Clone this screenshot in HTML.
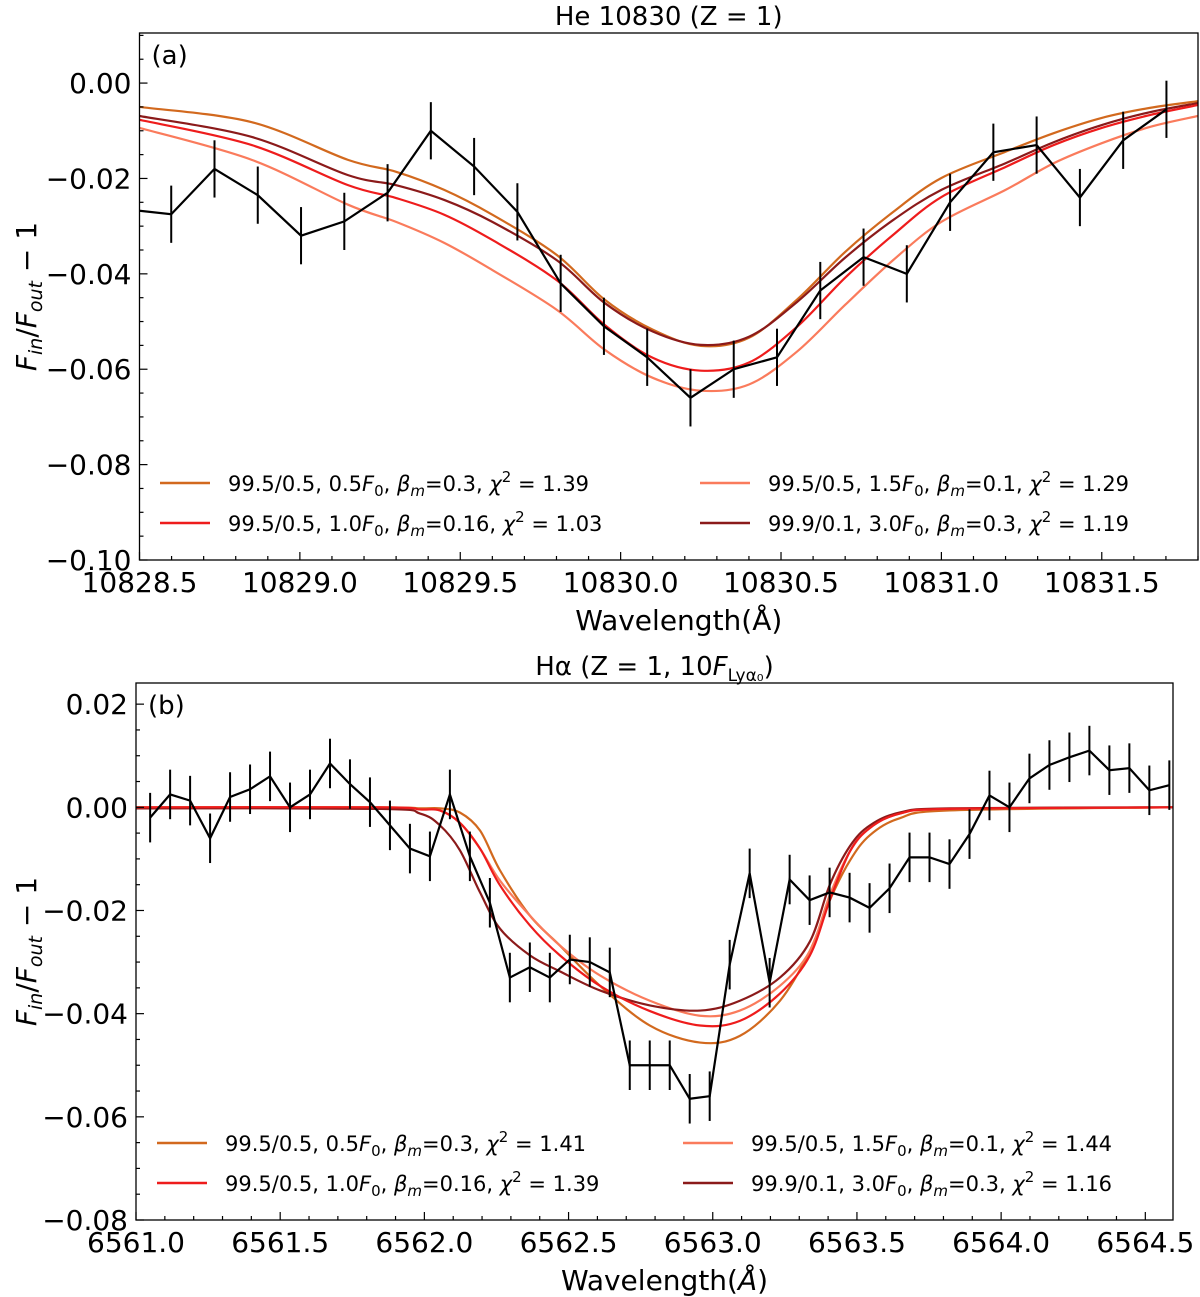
<!DOCTYPE html>
<html><head><meta charset="utf-8"><style>
body{margin:0;background:#fff;}
svg{display:block;font-family:"DejaVu Sans","Liberation Sans",sans-serif;}
</style></head><body>
<svg id="chart" width="1200" height="1297" viewBox="0 0 1200 1297" xmlns="http://www.w3.org/2000/svg"></svg>
<script>
// ---------- Panel (a) He 10830 data ----------
const aObsStart = 10828.464, aObsStep = 0.1349;
const aObsVals = [-0.0265,-0.0275,-0.018,-0.0235,-0.032,-0.029,-0.023,-0.010,-0.0175,-0.027,-0.042,-0.051,-0.0575,-0.066,-0.060,-0.0575,-0.0435,-0.0365,-0.040,-0.025,-0.0145,-0.013,-0.024,-0.012,-0.0055];
const aObsErr = 0.006;
const aModelWl = [10828.5,10828.85,10829.15,10829.3,10829.45,10829.6,10829.8,10829.95,10830.1,10830.25,10830.4,10830.55,10830.7,10830.85,10831.0,10831.2,10831.35,10831.5,10831.65,10831.8];
const aOrange = [-0.0050,-0.0082,-0.0161,-0.0186,-0.0224,-0.0276,-0.0360,-0.0454,-0.0517,-0.0551,-0.0534,-0.0454,-0.0354,-0.0270,-0.0199,-0.0144,-0.0105,-0.0073,-0.0052,-0.0038];
const aRed = [-0.0077,-0.0130,-0.0214,-0.0241,-0.0276,-0.0329,-0.0413,-0.0507,-0.0576,-0.0603,-0.0586,-0.0511,-0.0408,-0.0318,-0.0239,-0.0176,-0.0130,-0.0094,-0.0067,-0.0046];
const aLight = [-0.0094,-0.0161,-0.0255,-0.0291,-0.0335,-0.0392,-0.0475,-0.0559,-0.0618,-0.0645,-0.0632,-0.0563,-0.0465,-0.0371,-0.0291,-0.0224,-0.0168,-0.0126,-0.0092,-0.0069];
const aDark = [-0.0069,-0.0113,-0.0193,-0.0214,-0.0245,-0.0291,-0.0371,-0.0461,-0.0521,-0.0549,-0.0532,-0.0459,-0.0366,-0.0287,-0.0224,-0.0168,-0.0124,-0.0088,-0.0061,-0.0042];
const aXTicks = ["10828.5","10829.0","10829.5","10830.0","10830.5","10831.0","10831.5"];
const aYTicks = ["0.00","−0.02","−0.04","−0.06","−0.08","−0.10"];
const aLegF = ["0.5","1.0","1.5","3.0"];
const aLegMix = ["99.5/0.5","99.5/0.5","99.5/0.5","99.9/0.1"];
const aLegBeta = ["0.3","0.16","0.1","0.3"];
const aLegChi = ["1.39","1.03","1.29","1.19"];
// ---------- Panel (b) Halpha data ----------
const bObsStart = 6561.049, bObsStep = 0.0693;
const bObsVals = [-0.002,0.0025,0.0013,-0.006,0.002,0.0035,0.006,0,0.0025,0.0085,0.0045,0.001,-0.0035,-0.008,-0.0095,0.0025,-0.0095,-0.0185,-0.033,-0.031,-0.033,-0.0295,-0.030,-0.032,-0.050,-0.050,-0.050,-0.0565,-0.056,-0.0305,-0.0128,-0.034,-0.014,-0.018,-0.0165,-0.0175,-0.0195,-0.0157,-0.0097,-0.0097,-0.011,-0.0052,0.0023,0,0.0056,0.0082,0.0097,0.011,0.0072,0.0076,0.0033,0.0043];
const bObsErr = 0.0048;
const bModelWl = [6561.0,6561.846,6561.985,6562.054,6562.123,6562.193,6562.262,6562.366,6562.470,6562.609,6562.782,6562.956,6563.094,6563.233,6563.337,6563.406,6563.476,6563.545,6563.649,6563.822,6564.6];
const bOrange = [0,0,-0.0002,-0.0002,-0.001,-0.0045,-0.0122,-0.021,-0.0268,-0.0346,-0.0423,-0.0456,-0.0443,-0.0375,-0.0278,-0.018,-0.0103,-0.0054,-0.0021,-0.0006,0];
const bRed = [0,0,-0.0004,-0.0006,-0.003,-0.008,-0.0151,-0.0229,-0.0287,-0.0346,-0.0395,-0.0423,-0.0414,-0.0361,-0.0287,-0.018,-0.0085,-0.004,-0.0012,-0.0003,0];
const bLight = [0,0,-0.0004,-0.0006,-0.003,-0.008,-0.0142,-0.021,-0.0268,-0.0326,-0.0375,-0.0404,-0.0394,-0.0346,-0.0278,-0.017,-0.0085,-0.004,-0.0012,-0.0003,0];
const bDark = [-0.0002,-0.0003,-0.0012,-0.0035,-0.0083,-0.0165,-0.0235,-0.0287,-0.0318,-0.0355,-0.0384,-0.0394,-0.0375,-0.0330,-0.0260,-0.0150,-0.0075,-0.0035,-0.0010,-0.0002,0];
const bXTicks = ["6561.0","6561.5","6562.0","6562.5","6563.0","6563.5","6564.0","6564.5"];
const bYTicks = ["0.02","0.00","−0.02","−0.04","−0.06","−0.08"];
const bLegF = ["0.5","1.0","1.5","3.0"];
const bLegMix = ["99.5/0.5","99.5/0.5","99.5/0.5","99.9/0.1"];
const bLegBeta = ["0.3","0.16","0.1","0.3"];
const bLegChi = ["1.41","1.39","1.44","1.16"];
const legColors = ["#d2691e","#ee1c1c","#fa7b5c","#8b1a1a"];

const NS="http://www.w3.org/2000/svg";
const svg=document.getElementById('chart');
function mk(tag,attrs,parent){const e=document.createElementNS(NS,tag);for(const k in attrs)e.setAttribute(k,attrs[k]);(parent||svg).appendChild(e);return e;}
function smooth(pts){let d=`M${pts[0][0]},${pts[0][1]}`;for(let i=0;i<pts.length-1;i++){const p0=pts[i-1]||pts[i],p1=pts[i],p2=pts[i+1],p3=pts[i+2]||p2;const c1=[p1[0]+(p2[0]-p0[0])/6,p1[1]+(p2[1]-p0[1])/6],c2=[p2[0]-(p3[0]-p1[0])/6,p2[1]-(p3[1]-p1[1])/6];d+=` C${c1[0]},${c1[1]} ${c2[0]},${c2[1]} ${p2[0]},${p2[1]}`;}return d;}
function legHtml(mix,f,beta,chi){
 return `${mix}, ${f}<tspan font-style="italic">F</tspan><tspan font-size="15" dy="5">0</tspan><tspan dy="-5">, </tspan><tspan font-style="italic">β</tspan><tspan font-style="italic" font-size="15" dy="5">m</tspan><tspan dy="-5">=${beta}, </tspan><tspan font-style="italic">χ</tspan><tspan font-size="15" dy="-9">2</tspan><tspan dy="9"> =  ${chi}</tspan>`;
}

function panel(cfg){
 const {L,R,T,B,x0,x1,y0,y1}=cfg;
 const X=v=>L+(v-x0)/(x1-x0)*(R-L), Y=v=>T+(y1-v)/(y1-y0)*(B-T);
 const g=mk('g',{});
 
 
 mk('defs',{},g).innerHTML=`<clipPath id="clip-${cfg.id}"><rect x="${L}" y="${T}" width="${R-L}" height="${B-T}"/></clipPath>`;
 const plot=mk('g',{'clip-path':`url(#clip-${cfg.id})`},g);
 const models=[[cfg.orange,'#d2691e','model-0.5F0'],[cfg.light,'#fa7b5c','model-1.5F0'],[cfg.dark,'#8b1a1a','model-3.0F0'],[cfg.red,'#ee1c1c','model-1.0F0']];
 models.forEach(([vals,col,nm])=>{
  const p=mk('path',{d:smooth(vals.map((v,i)=>[X(cfg.mwl[i]),Y(v)])),fill:'none',stroke:col,'stroke-width':2.2},plot);
  
  
 });
 const pts=cfg.obs.map((v,i)=>[X(cfg.os+i*cfg.ostep),Y(v)]);
 const ol=mk('polyline',{points:pts.map(p=>p.join(',')).join(' '),fill:'none',stroke:'#000','stroke-width':2.2},plot);
 
 
 cfg.obs.forEach((v,i)=>{
  const x=X(cfg.os+i*cfg.ostep);
  const e=mk('line',{x1:x,x2:x,y1:Y(v+cfg.err),y2:Y(v-cfg.err),stroke:'#000','stroke-width':2},plot);
  
  
 });
 const fr=mk('rect',{x:L,y:T,width:R-L,height:B-T,fill:'none',stroke:'#000','stroke-width':1.3},g);
 
 
 for(let k=0;;k++){const v=x0+k*0.1;if(v>x1+1e-9)break;const x=X(v);const maj=k%5===0;mk('line',{x1:x,x2:x,y1:B,y2:B-(maj?8:4),stroke:'#000','stroke-width':1.2},g);}
 cfg.xt.forEach((t,i)=>{const tx=mk('text',{x:X(parseFloat(t)),y:B+32,'text-anchor':'middle','font-size':28},g);tx.textContent=t;
  
  });
 for(let k=0;;k++){const v=cfg.yb+k*0.005;if(v>y1+1e-9)break;const y=Y(v);const maj=k%4===0;mk('line',{x1:L,x2:L+(maj?8:4),y1:y,y2:y,stroke:'#000','stroke-width':1.2},g);}
 cfg.yt.forEach((t,i)=>{const v=parseFloat(t.replace('−','-'));const tx=mk('text',{x:L-8,y:Y(v)+10,'text-anchor':'end','font-size':28},g);tx.textContent=t;
  
  });
 const ti=mk('text',{x:(L+R)/2,y:T-8,'text-anchor':'middle','font-size':26},g);ti.innerHTML=cfg.title;
 
 
 const lb=mk('text',{x:L+12,y:T+31,'font-size':26},g);lb.textContent=cfg.label;
 
 
 const xl=mk('text',{x:(L+R)/2+10,y:B+70,'text-anchor':'middle','font-size':28},g);xl.innerHTML=cfg.xlab;
 
 
 const yc=(T+B)/2;
 const yl=mk('text',{x:0,y:0,'text-anchor':'middle','font-size':28,transform:`translate(36,${yc}) rotate(-90)`},g);
 yl.innerHTML='<tspan font-style="italic">F</tspan><tspan font-style="italic" font-size="19" dy="6">in</tspan><tspan dy="-6">/</tspan><tspan font-style="italic">F</tspan><tspan font-style="italic" font-size="19" dy="6">out</tspan><tspan dy="-6"> − 1</tspan>';
 
 
 for(let i=0;i<4;i++){
  const col2=i<2?0:1,row=i%2;
  const lx=cfg.legX[col2],ly=cfg.legY+row*40;
  const it=mk('g',{},g);
  
  
  mk('line',{x1:lx,x2:lx+50,y1:ly,y2:ly,stroke:legColors[i],'stroke-width':2.5},it);
  const t=mk('text',{x:lx+68,y:ly+8,'font-size':21},it);t.innerHTML=legHtml(cfg.lmix[i],cfg.lf[i],cfg.lbeta[i],cfg.lchi[i]);
 }
}
panel({id:'a',name:'panel-a-he10830',L:139.5,R:1198,T:33,B:560,x0:10828.5,x1:10831.8,y0:-0.1,y1:0.0105,yb:-0.1,
 obs:aObsVals,os:aObsStart,ostep:aObsStep,err:aObsErr,mwl:aModelWl,orange:aOrange,red:aRed,light:aLight,dark:aDark,
 xt:aXTicks,yt:aYTicks,title:'He 10830 (Z = 1)',label:'(a)',xlab:'Wavelength(Å)',lmix:aLegMix,lf:aLegF,lbeta:aLegBeta,lchi:aLegChi,legX:[160,700],legY:483});
panel({id:'b',name:'panel-b-halpha',L:136,R:1173,T:683,B:1220,x0:6561.0,x1:6564.596,y0:-0.08,y1:0.0241,yb:-0.08,
 obs:bObsVals,os:bObsStart,ostep:bObsStep,err:bObsErr,mwl:bModelWl,orange:bOrange,red:bRed,light:bLight,dark:bDark,
 xt:bXTicks,yt:bYTicks,title:'Hα (Z = 1, 10<tspan font-style="italic">F</tspan><tspan font-size="17" dy="6">Lyα₀</tspan><tspan dy="-6">)</tspan>',label:'(b)',xlab:'Wavelength(<tspan font-style="italic">Å</tspan>)',lmix:bLegMix,lf:bLegF,lbeta:bLegBeta,lchi:bLegChi,legX:[157,683],legY:1143});
</script>
</body></html>
